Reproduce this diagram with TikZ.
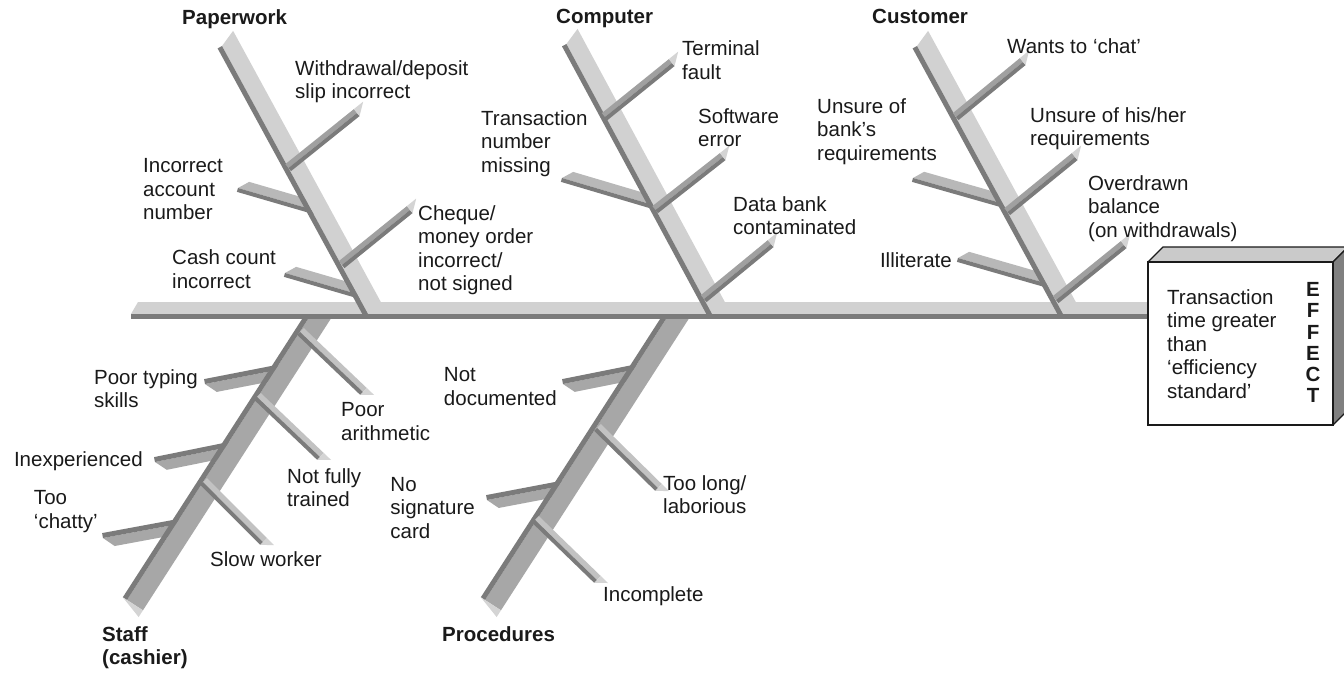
\documentclass[tikz,border=0pt]{standalone}
\usepackage{fontspec}
\setmainfont{Liberation Sans}
\usetikzlibrary{calc}
\definecolor{bLight}{HTML}{D1D1D1}
\definecolor{bDark}{HTML}{7B7B7B}
\definecolor{bMid}{HTML}{A7A7A7}
\definecolor{bSubL}{HTML}{B8B8B8}
\definecolor{bSubU}{HTML}{A0A0A0}
\definecolor{bSubR}{HTML}{C2C2C2}
\definecolor{bCap}{HTML}{D4D4D4}
\definecolor{boxTop}{HTML}{CACACA}
\definecolor{boxSide}{HTML}{808080}
\definecolor{ink}{HTML}{1A1A1A}
% bone: #1 A, #2 B (face/dark boundary), #3 face width (+90 side), #4 dark width,
% #5 face colour, #6 dark colour, #7 bevel at A, #8 bevel at B
\newcommand{\fbone}[8]{%
  \coordinate (bA) at (#1); \coordinate (bB) at (#2);
  \coordinate (bAs) at ($(bA)!#7!(bB)$);
  \coordinate (bBs) at ($(bB)!#8!(bA)$);
  \fill[#5] (bA) -- ($(bAs)!#3!90:(bB)$) -- ($(bBs)!#3!-90:(bA)$) -- (bB) -- cycle;
  \fill[#6] (bA) -- ($(bA)!#4!-90:(bB)$) -- ($(bB)!#4!90:(bA)$) -- (bB) -- cycle;
}
% cap at B end: #1 A, #2 B, #3 face width, #4 dark width, #5 extension
\newcommand{\fcap}[5]{%
  \coordinate (cB) at (#2);
  \coordinate (cE) at ($(#2)!-#5!(#1)$);
  \fill[bCap] ($(cB)!#4!90:(#1)$) -- ($(cB)!#3!-90:(#1)$) -- ($(cE)!#3!-90:(#1)$) -- cycle;
}
\tikzset{
  lbl/.style={inner sep=0pt, align=left, anchor=north west, text=ink,
    font=\fontsize{20.5}{23.5}\selectfont},
  lblr/.style={lbl, anchor=north east},
  ttl/.style={lbl, font=\fontsize{20.5}{23.5}\selectfont\bfseries},
}
\begin{document}
\begin{tikzpicture}[x=1pt,y=-1pt]
\useasboundingbox (0,0) rectangle (1344,672);
\fill[white] (0,0) rectangle (1344,672);

% ---- bottom left-going sub-bones (behind main bones)
\fbone{282,369}{205,384}{10pt}{5pt}{bMid}{bDark}{0pt}{10pt}
\fbone{234,446}{155,462}{10pt}{5pt}{bMid}{bDark}{0pt}{10pt}
\fbone{184,523}{103,538}{10pt}{5pt}{bMid}{bDark}{0pt}{10pt}
\fbone{643,368}{563,384}{10pt}{5pt}{bMid}{bDark}{0pt}{10pt}
\fbone{566,485}{487,500}{10pt}{5pt}{bMid}{bDark}{0pt}{10pt}

% ---- bottom main bones
\fbone{316.4,306}{127,600}{19pt}{5pt}{bMid}{bDark}{0pt}{0pt}
\fcap{316.4,306}{127,600}{19pt}{5pt}{8pt}
\fbone{674.4,306}{485,600}{19pt}{5pt}{bMid}{bDark}{0pt}{0pt}
\fcap{674.4,306}{485,600}{19pt}{5pt}{8pt}

% ---- spine
\fbone{131,314}{1152,314}{12pt}{5pt}{bLight}{bDark}{7pt}{0pt}

% ---- bottom right-down sub-bones
\fbone{300,332}{363,392}{5.5pt}{4pt}{bSubR}{bDark}{0pt}{0pt}
\fcap{300,332}{363,392}{5.5pt}{4pt}{10pt}
\fbone{257,397}{320,457}{5.5pt}{4pt}{bSubR}{bDark}{0pt}{0pt}
\fcap{257,397}{320,457}{5.5pt}{4pt}{10pt}
\fbone{203,482}{263,542}{5.5pt}{4pt}{bSubR}{bDark}{0pt}{0pt}
\fcap{203,482}{263,542}{5.5pt}{4pt}{10pt}
\fbone{597,428}{658,488}{5.5pt}{4pt}{bSubR}{bDark}{0pt}{0pt}
\fcap{597,428}{658,488}{5.5pt}{4pt}{10pt}
\fbone{535,520}{597,580}{5.5pt}{4pt}{bSubR}{bDark}{0pt}{0pt}
\fcap{535,520}{597,580}{5.5pt}{4pt}{10pt}

% ---- top left-going sub-bones (behind main bones)
\fbone{238,188}{318,211.3}{9pt}{4pt}{bSubL}{bDark}{9pt}{0pt}
\fbone{285,273}{364,296}{9pt}{4pt}{bSubL}{bDark}{9pt}{0pt}
\fbone{562,178}{660,207}{9pt}{4pt}{bSubL}{bDark}{9pt}{0pt}
\fbone{913,178}{1010,205.6}{9pt}{4pt}{bSubL}{bDark}{9pt}{0pt}
\fbone{958,258}{1054,285.6}{9pt}{4pt}{bSubL}{bDark}{9pt}{0pt}

% ---- top main bones
\fbone{222,46}{368,314}{17pt}{5pt}{bLight}{bDark}{-8pt}{0pt}
\fbone{566.4,44}{712,314}{17pt}{5pt}{bLight}{bDark}{-8pt}{0pt}
\fbone{917,46}{1063,314}{17pt}{5pt}{bLight}{bDark}{-8pt}{0pt}

% ---- top up-right sub-bones
\fbone{288.5,168}{357,113}{5pt}{4pt}{bSubU}{bDark}{0pt}{0pt}
\fcap{288.5,168}{357,113}{5pt}{4pt}{12pt}
\fbone{342,265}{410,210}{5pt}{4pt}{bSubU}{bDark}{0pt}{0pt}
\fcap{342,265}{410,210}{5pt}{4pt}{12pt}
\fbone{605,117}{672,63}{5pt}{4pt}{bSubU}{bDark}{0pt}{0pt}
\fcap{605,117}{672,63}{5pt}{4pt}{12pt}
\fbone{655.5,210}{723,157}{5pt}{4pt}{bSubU}{bDark}{0pt}{0pt}
\fcap{655.5,210}{723,157}{5pt}{4pt}{12pt}
\fbone{704,299}{771,244}{5pt}{4pt}{bSubU}{bDark}{0pt}{0pt}
\fcap{704,299}{771,244}{5pt}{4pt}{12pt}
\fbone{956,117}{1023,62}{5pt}{4pt}{bSubU}{bDark}{0pt}{0pt}
\fcap{956,117}{1023,62}{5pt}{4pt}{12pt}
\fbone{1007.5,212}{1075,157}{5pt}{4pt}{bSubU}{bDark}{0pt}{0pt}
\fcap{1007.5,212}{1075,157}{5pt}{4pt}{12pt}
\fbone{1056,300}{1124,245}{5pt}{4pt}{bSubU}{bDark}{0pt}{0pt}
\fcap{1056,300}{1124,245}{5pt}{4pt}{12pt}

% ---- effect box
\coordinate (fTL) at (1148,262);
\coordinate (fBR) at (1333,425);
\filldraw[fill=boxTop, draw=ink, line width=1.3pt, line join=round]
  (1148,262) -- (1163,247) -- (1348,247) -- (1333,262) -- cycle;
\filldraw[fill=boxSide, draw=ink, line width=1.3pt, line join=round]
  (1333,262) -- (1348,247) -- (1348,410) -- (1333,425) -- cycle;
\filldraw[fill=white, draw=ink, line width=1.3pt] (fTL) rectangle (fBR);
\node[lbl] (effect) at (1167,289.3) {Transaction\\time greater\\than\\`efficiency\\standard'};
\node[ttl, anchor=north, align=center, font=\fontsize{20.5}{21.2}\selectfont\bfseries] (effword) at (1313,282.3) {E\\F\\F\\E\\C\\T};

% ---- category titles
\node[ttl] (paperwork) at (182,9.3) {Paperwork};
\node[ttl] (computer) at (556,9.3) {Computer};
\node[ttl] (customer) at (872,9.3) {Customer};
\node[ttl] (staff) at (102,626.3) {Staff\\(cashier)};
\node[ttl] (procedures) at (442,626.3) {Procedures};

% ---- cause labels
\node[lbl] (wd) at (295,60.3) {Withdrawal/deposit\\slip incorrect};
\node[lbl] (ian) at (143,158.3) {Incorrect\\account\\number};
\node[lbl] (cc) at (172,249.5) {Cash count\\incorrect};
\node[lbl] (cq) at (418,205.3) {Cheque/\\money order\\incorrect/\\not signed};
\node[lbl] (tf) at (682,40.8) {Terminal\\fault};
\node[lbl] (tnm) at (481,110.3) {Transaction\\number\\missing};
\node[lbl] (se) at (698,108.3) {Software\\error};
\node[lbl] (db) at (733,196.3) {Data bank\\contaminated};
\node[lbl] (wc) at (1007,38.3) {Wants to `chat'};
\node[lbl] (ub) at (817,98.3) {Unsure of\\bank's\\requirements};
\node[lbl] (uh) at (1030,107.3) {Unsure of his/her\\requirements};
\node[lbl] (od) at (1088,175.3) {Overdrawn\\balance\\(on withdrawals)};
\node[lblr] (il) at (952,252.3) {Illiterate};

\node[lblr] (pt) at (198,369.3) {Poor typing\\skills};
\node[lblr] (inx) at (143,451.3) {Inexperienced};
\node[lblr] (tc) at (98,490.3) {Too\\`chatty'};
\node[lbl] (pa) at (341,402.3) {Poor\\arithmetic};
\node[lbl] (nft) at (287,468.3) {Not fully\\trained};
\node[lbl] (sw) at (210,551.3) {Slow worker};
\node[lblr] (nd) at (557,367.3) {Not\\documented};
\node[lblr] (ns) at (475,476.8) {No\\signature\\card};
\node[lbl] (tl) at (663,475.3) {Too long/\\laborious};
\node[lbl] (ic) at (603,586.3) {Incomplete};
\end{tikzpicture}
\end{document}
